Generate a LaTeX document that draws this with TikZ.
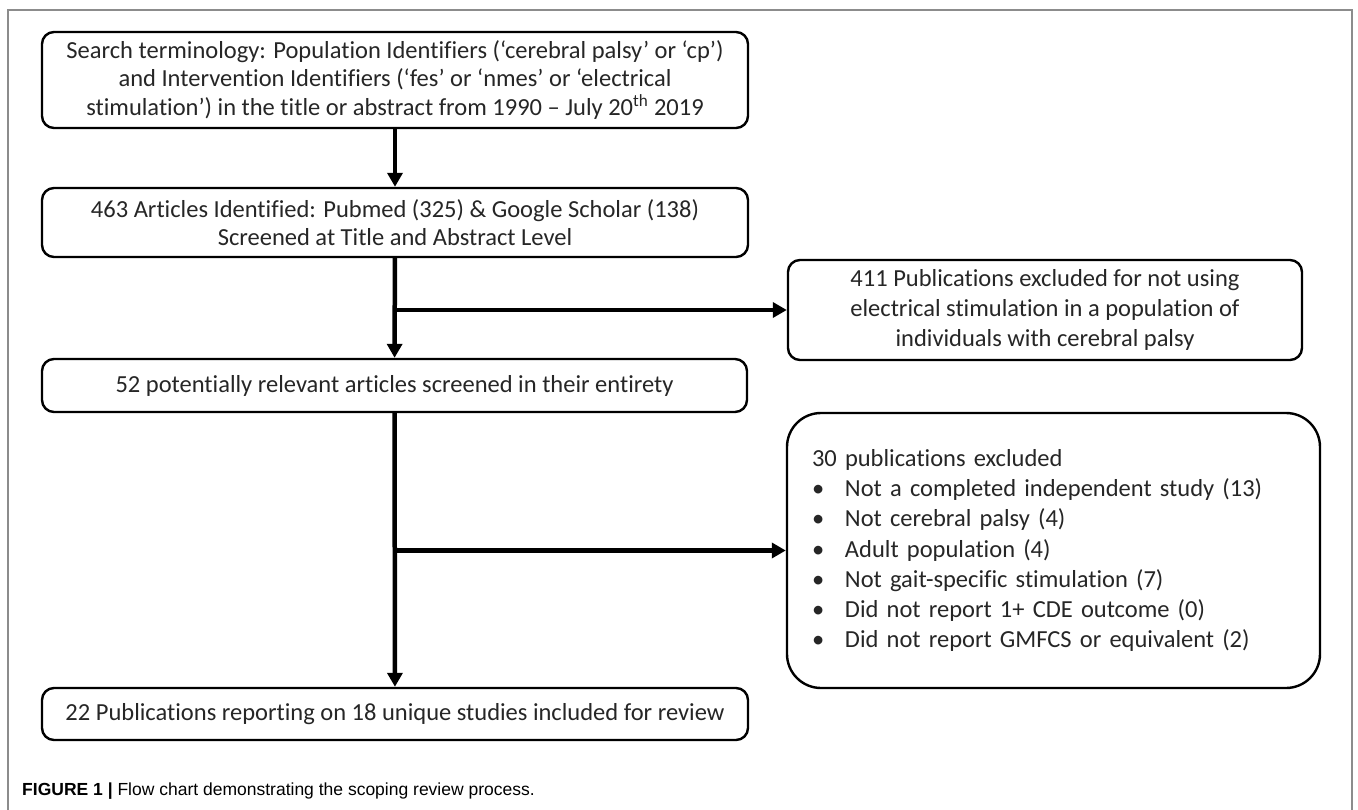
\documentclass[tikz,border=0pt]{standalone}
\usepackage{fontspec}
\setmainfont{Carlito}[Ligatures={NoCommon}]
\newfontfamily\capfont{Liberation Sans}
\usetikzlibrary{arrows.meta}
\usetikzlibrary{positioning}

\tikzset{
  flowbox/.style={draw=black, line width=2.4pt, rounded corners=12pt, fill=white,
    align=center, inner sep=0pt, text=black!85,
    font=\fontsize{24.5}{28.5}\selectfont},
  flowline/.style={line width=4.5pt, -{Triangle[length=14pt,width=15pt]}},
}

\begin{document}
\begin{tikzpicture}[x=1pt,y=-1pt]

\useasboundingbox (0,0) rectangle (1358,810);

% --- Cadre ---
\draw[gray!90, line width=2pt] (8,810) -- (8,10) -- (1352,10) -- (1352,810);

% --- Boites principales ---
\node[flowbox, minimum width=706pt, minimum height=96pt] (search) at (395,80)
  {Search terminology: Population Identifiers (‘cerebral palsy’ or ‘cp’)\\
   and Intervention Identifiers (‘fes’ or ‘nmes’ or ‘electrical\\
   stimulation’) in the title or abstract from 1990 – July 20\textsuperscript{th} 2019};

\node[flowbox, minimum width=706pt, minimum height=69pt] (ident) at (395,222.5)
  {463 Articles Identified: Pubmed (325) \& Google Scholar (138)\\
   Screened at Title and Abstract Level};

\node[flowbox, minimum width=705pt, minimum height=53pt] (screen) at (394.5,385.5)
  {52 potentially relevant articles screened in their entirety};

\node[flowbox, minimum width=706pt, minimum height=52pt] (incl) at (395,714)
  {22 Publications reporting on 18 unique studies included for review};

% --- Exclusions ---
\node[flowbox, minimum width=514pt, minimum height=100pt,
  font=\fontsize{24.5}{30}\selectfont] (excl1) at (1045,310)
  {411 Publications excluded for not using\\
   electrical stimulation in a population of\\
   individuals with cerebral palsy};

\node[flowbox, rounded corners=34pt, minimum width=533pt, minimum height=275pt,
  text width=483pt, align=left, font=\fontsize{24.5}{30.3}\selectfont] (excl2) at (1053.5,550.5)
  {30 publications excluded\\
   \makebox[33pt][l]{\textbullet}Not a completed independent study (13)\\
   \makebox[33pt][l]{\textbullet}Not cerebral palsy (4)\\
   \makebox[33pt][l]{\textbullet}Adult population (4)\\
   \makebox[33pt][l]{\textbullet}Not gait-specific stimulation (7)\\
   \makebox[33pt][l]{\textbullet}Did not report 1+ CDE outcome (0)\\
   \makebox[33pt][l]{\textbullet}Did not report GMFCS or equivalent (2)};

% --- Fleches ---
\draw[flowline] (search) -- (ident);
\draw[flowline] (ident) -- (screen);
\draw[flowline] (screen) -- (incl);
\draw[flowline] (ident.south |- excl1.west) -- (excl1.west);
\draw[flowline] (screen.south |- excl2.west) -- (excl2.west);

% --- Legende ---
\node[anchor=west, inner sep=0pt, font=\capfont\fontsize{17.5}{20}\selectfont] (caption) at (22,791)
  {\textbf{FIGURE 1 |} Flow chart demonstrating the scoping review process.};

\end{tikzpicture}
\end{document}
